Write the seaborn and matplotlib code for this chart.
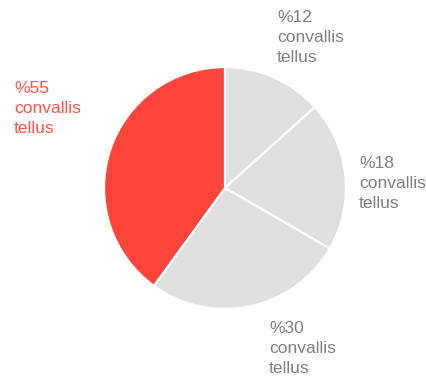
import matplotlib
matplotlib.use("Agg")
import matplotlib.pyplot as plt
import seaborn as sns

# slice sizes as measured from the wedge angles, and the printed labels
shares = [12, 18, 24, 36]
pct_labels = ["%12", "%18", "%30", "%55"]
label_text = "convallis\ntellus"
slice_colors = ["#e0e0e0", "#e0e0e0", "#e0e0e0", "#ff443a"]
text_colors = ["#7f7f7f", "#7f7f7f", "#7f7f7f", "#ff5247"]

sns.set_theme(style="white")
plt.rcParams["font.family"] = ["Liberation Sans", "DejaVu Sans"]

W, H = 427, 382
cx, cy, r = 225, 188, 121

fig = plt.figure(figsize=(W / 100, H / 100), dpi=100)
ax = fig.add_axes([(cx - r) / W, (H - cy - r) / H, 2 * r / W, 2 * r / H])

ax.pie(
    shares,
    colors=slice_colors,
    startangle=90,
    counterclock=False,
    radius=1,
    wedgeprops=dict(edgecolor="white", linewidth=1.6),
)
ax.set_xlim(-1, 1)
ax.set_ylim(-1, 1)
ax.set_aspect("equal")
ax.axis("off")

# label anchors in pixels (left edge, baseline of the last line)
label_px = [(277, 61.5), (359, 207.5), (269, 373), (14, 132.5)]
for (px, py), pct, col in zip(label_px, pct_labels, text_colors):
    fig.text(px / W, 1 - py / H, f"{pct}\n{label_text}", color=col,
             fontsize=12.6, ha="left", va="baseline", linespacing=1.4)

fig.savefig("out.png", dpi=100, facecolor="white")
